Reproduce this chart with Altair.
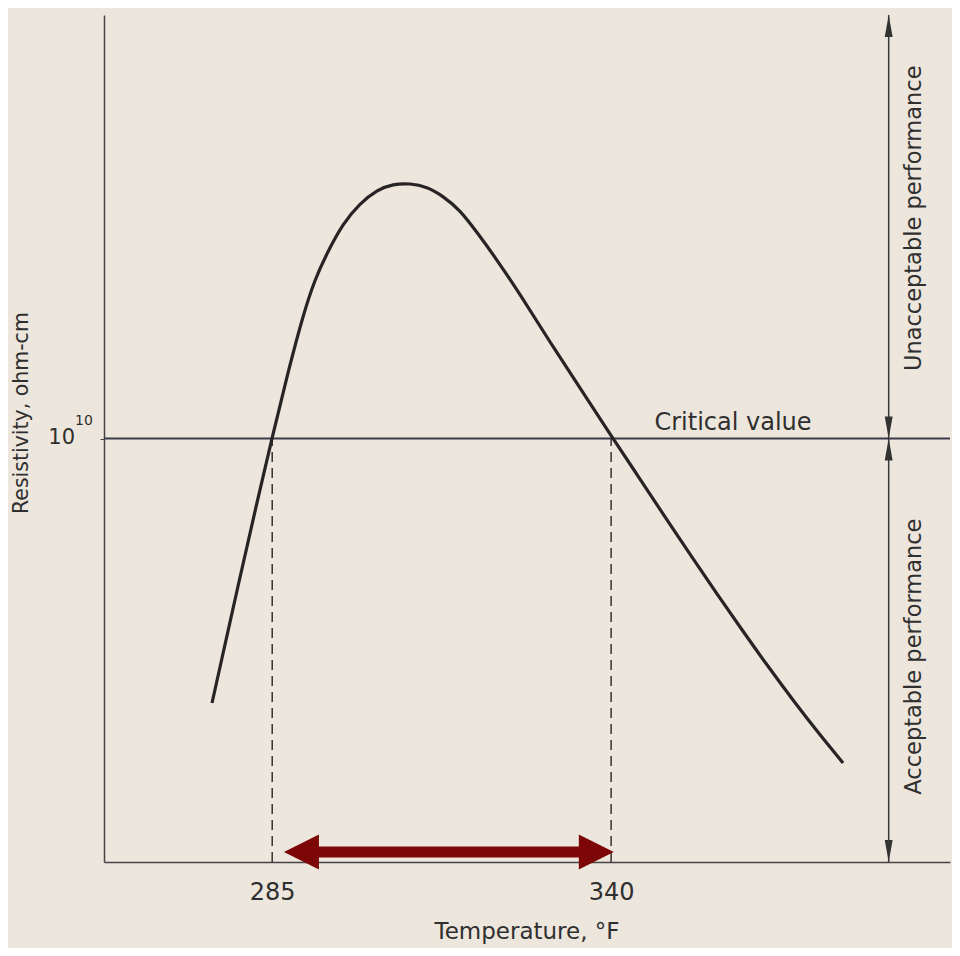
import altair as alt
import pandas as pd

# ---- data ----
temp_f = [275.23, 279.77, 282.37, 284.97, 287.56, 290.00, 291.94, 293.89, 296.49, 299.25,
          302.01, 304.60, 307.36, 310.12, 312.72, 315.48, 318.19, 320.83, 325.21, 330.57,
          336.04, 340.15, 344.69, 349.07, 353.13, 357.19, 361.24, 365.30, 369.85, 373.90, 377.64]
log_resistivity = [8.751, 9.346, 9.678, 10.003, 10.313, 10.582, 10.753, 10.875, 11.016, 11.111,
                   11.174, 11.202, 11.205, 11.189, 11.145, 11.079, 10.975, 10.871, 10.682, 10.432,
                   10.191, 10.007, 9.809, 9.615, 9.440, 9.266, 9.096, 8.930, 8.751, 8.600, 8.468]

critical_log = 10.0
crossing_temps = [285, 340]
x_tick_values = [285, 340]

X_MIN, X_MAX = 257.7, 395.0
Y_MIN, Y_MAX = 8.0, 12.0

# annotation anchors (data units)
perf_x = 385.05
red_y = 8.047
red_left, red_right = 286.9, 340.44

BG = "#ede6dd"
INK = "#262424"
RED = "#7d0606"
FONT = "DejaVu Sans"
TXT = "#2f2f2f"

xs = alt.Scale(domain=[X_MIN, X_MAX], nice=False, zero=False)
ys = alt.Scale(domain=[Y_MIN, Y_MAX], nice=False, zero=False)

curve_df = pd.DataFrame({"t": temp_f, "r": log_resistivity})

base_axes = alt.Chart(pd.DataFrame({"t": [X_MIN], "r": [Y_MIN]})).mark_point(opacity=0).encode(
    x=alt.X("t:Q", scale=xs,
            axis=alt.Axis(values=x_tick_values, title=None, ticks=False, grid=False,
                          labelFontSize=24, labelPadding=18, labelColor=TXT,
                          labelFont=FONT, domainColor="#444444", domainWidth=1.5)),
    y=alt.Y("r:Q", scale=ys,
            axis=alt.Axis(values=[critical_log], title=None, labels=False, grid=False,
                          tickSize=4, tickColor="#444444", domainColor="#444444",
                          domainWidth=1.5)),
)

curve = alt.Chart(curve_df).mark_line(color=INK, strokeWidth=3.2, interpolate="basis").encode(
    x=alt.X("t:Q", scale=xs), y=alt.Y("r:Q", scale=ys)
)

crit = alt.Chart(pd.DataFrame({"a": [X_MIN], "b": [X_MAX], "r": [critical_log]})).mark_rule(
    color="#3b3848", strokeWidth=2).encode(x=alt.X("a:Q", scale=xs), x2="b:Q", y=alt.Y("r:Q", scale=ys))

dashes = alt.Chart(pd.DataFrame({"t": crossing_temps, "lo": [Y_MIN] * 2, "hi": [critical_log] * 2})).mark_rule(
    color="#333333", strokeWidth=1.5, strokeDash=[10, 6]).encode(
    x=alt.X("t:Q", scale=xs), y=alt.Y("lo:Q", scale=ys), y2="hi:Q")

perf_line = alt.Chart(pd.DataFrame({"t": [perf_x], "lo": [Y_MIN], "hi": [Y_MAX]})).mark_rule(
    color="#3a3a3a", strokeWidth=1.5).encode(
    x=alt.X("t:Q", scale=xs), y=alt.Y("lo:Q", scale=ys), y2="hi:Q")

UP = "M 0 0 L 0.36 2 L -0.36 2 Z"
DOWN = "M 0 0 L 0.36 -2 L -0.36 -2 Z"
heads_df = pd.DataFrame({
    "t": [perf_x] * 4,
    "r": [Y_MAX, critical_log, critical_log, Y_MIN],
    "shape": [UP, DOWN, UP, DOWN],
})
heads = alt.Chart(heads_df).mark_point(filled=True, size=484, color="#333333", opacity=1).encode(
    x=alt.X("t:Q", scale=xs), y=alt.Y("r:Q", scale=ys), shape=alt.Shape("shape:N", scale=None))

RIGHT = "M 0 0 L -2 -1 L -2 1 Z"
LEFT = "M 0 0 L 2 -1 L 2 1 Z"
shaft = alt.Chart(pd.DataFrame({"a": [red_left + 3], "b": [red_right - 3], "r": [red_y]})).mark_rule(
    color=RED, strokeWidth=11).encode(x=alt.X("a:Q", scale=xs), x2="b:Q", y=alt.Y("r:Q", scale=ys))
red_heads = alt.Chart(pd.DataFrame({"t": [red_left, red_right], "r": [red_y] * 2,
                                    "shape": [LEFT, RIGHT]})).mark_point(
    filled=True, size=1225, color=RED, opacity=1).encode(
    x=alt.X("t:Q", scale=xs), y=alt.Y("r:Q", scale=ys), shape=alt.Shape("shape:N", scale=None))

def label(text, t, r, size, angle=0, align="center", baseline="middle"):
    return alt.Chart(pd.DataFrame({"t": [t], "r": [r], "s": [text]})).mark_text(
        font=FONT, fontSize=size, color=TXT, angle=angle, align=align, baseline=baseline
    ).encode(x=alt.X("t:Q", scale=xs), y=alt.Y("r:Q", scale=ys), text="s:N")

texts = [
    label("Critical value", 359.78, 10.04, 24, baseline="alphabetic"),
    label("10", 253.0, 9.975, 21, align="right", baseline="alphabetic"),
    label("10", 253.0, 10.065, 14, align="left", baseline="alphabetic"),
    label("Resistivity, ohm-cm", 244.4, 10.12, 20.5, angle=270),
    label("Temperature, °F", 326.35, 7.637, 23, baseline="alphabetic"),
    label("Unacceptable performance", 389.16, 11.04, 22.5, angle=270),
    label("Acceptable performance", 389.16, 8.97, 22.5, angle=270),
]

chart = alt.layer(base_axes, crit, dashes, perf_line, heads, curve, shaft, red_heads, *texts).properties(
    width=846, height=847,
    padding={"left": 96, "top": 7, "right": 2, "bottom": 86},
    autosize=alt.AutoSizeParams(type="none"),
    background=BG,
).configure_view(stroke=None)

chart.save("out.html", embed_options={"renderer": "svg", "actions": False})
